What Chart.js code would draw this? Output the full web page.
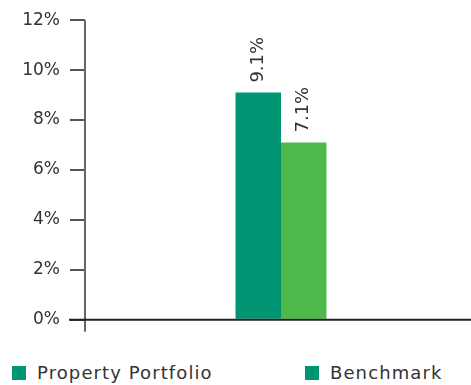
<!DOCTYPE html>
<html>
<head>
<meta charset="utf-8">
<script src="https://cdn.jsdelivr.net/npm/chart.js@4/dist/chart.umd.min.js"></script>
<style>
  html, body { margin: 0; padding: 0; background: #fff; overflow: hidden; }
  #wrap { position: relative; width: 471px; height: 385px; overflow: hidden; }
  #box { position: absolute; left: 0; top: 0; width: 477px; height: 340px; }
  .leg { position: absolute; top: 362px; font: 18px "DejaVu Sans", sans-serif; letter-spacing: 1.1px; color: #333; white-space: nowrap; }
  .leg i { display: inline-block; width: 14px; height: 14px; margin-right: 11px; vertical-align: -1px; }
</style>
</head>
<body>
<div id="wrap">
  <div id="box"><canvas id="c"></canvas></div>
  <div class="leg" style="left:12px"><i id="sw1"></i>Property Portfolio</div>
  <div class="leg" style="left:305px"><i id="sw2"></i>Benchmark</div>
</div>
<script>
// Annual return, property portfolio vs. benchmark
const categories = [''];
const seriesNames = ['Property Portfolio', 'Benchmark'];
const portfolioValues = [9.1];
const benchmarkValues = [7.1];
const yTicks = [0, 2, 4, 6, 8, 10, 12];

const TEAL = '#009673';
const GREEN = '#4eb84a';
const TEXT = '#333333';
const FONT = '"DejaVu Sans", sans-serif';

document.getElementById('sw1').style.background = TEAL;
document.getElementById('sw2').style.background = TEAL;

// Axis lines: y-axis runs a little below the baseline, x-axis starts at the tick marks
const axisLines = {
  id: 'axisLines',
  afterDatasetsDraw(chart) {
    const { ctx, chartArea, scales } = chart;
    const y0 = scales.y.getPixelForValue(0);
    ctx.save();
    ctx.lineWidth = 2;
    ctx.strokeStyle = '#666';
    ctx.beginPath();
    ctx.moveTo(chartArea.left, chartArea.top);
    ctx.lineTo(chartArea.left, y0 + 12);
    ctx.stroke();
    ctx.strokeStyle = '#222';
    ctx.beginPath();
    ctx.moveTo(chartArea.left - 16, y0);
    ctx.lineTo(chartArea.right, y0);
    ctx.stroke();
    ctx.restore();
  }
};

// Rotated value labels above each bar
const valueLabels = {
  id: 'valueLabels',
  afterDatasetsDraw(chart) {
    const { ctx } = chart;
    ctx.save();
    ctx.fillStyle = TEXT;
    ctx.font = '18px ' + FONT;
    ctx.textAlign = 'left';
    ctx.textBaseline = 'middle';
    chart.data.datasets.forEach((ds, i) => {
      chart.getDatasetMeta(i).data.forEach((bar, j) => {
        ctx.save();
        ctx.translate(bar.x, bar.y - 10);
        ctx.rotate(-Math.PI / 2);
        ctx.fillText(ds.data[j].toFixed(1) + '%', 0, 0);
        ctx.restore();
      });
    });
    ctx.restore();
  }
};

new Chart(document.getElementById('c'), {
  type: 'bar',
  data: {
    labels: categories,
    datasets: [
      { label: seriesNames[0], data: portfolioValues, backgroundColor: TEAL },
      { label: seriesNames[1], data: benchmarkValues, backgroundColor: GREEN }
    ]
  },
  options: {
    responsive: true,
    maintainAspectRatio: false,
    animation: false,
    layout: { padding: { top: 15, left: 0, right: 0, bottom: 11 } },
    plugins: { legend: { display: false }, tooltip: { enabled: false } },
    datasets: { bar: { categoryPercentage: 0.232, barPercentage: 1.0 } },
    scales: {
      x: {
        ticks: { display: false },
        grid: { display: false },
        border: { display: false }
      },
      y: {
        min: 0,
        max: 12,
        afterBuildTicks(scale) { scale.ticks = yTicks.map(v => ({ value: v })); },
        afterFit(scale) { scale.width = 85; },
        ticks: {
          padding: 10,
          color: TEXT,
          font: { size: 17, family: FONT },
          callback: v => v + '%'
        },
        grid: { drawOnChartArea: false, tickLength: 15, color: '#555', lineWidth: 2 },
        border: { display: false }
      }
    }
  },
  plugins: [axisLines, valueLabels]
});
</script>
</body>
</html>
